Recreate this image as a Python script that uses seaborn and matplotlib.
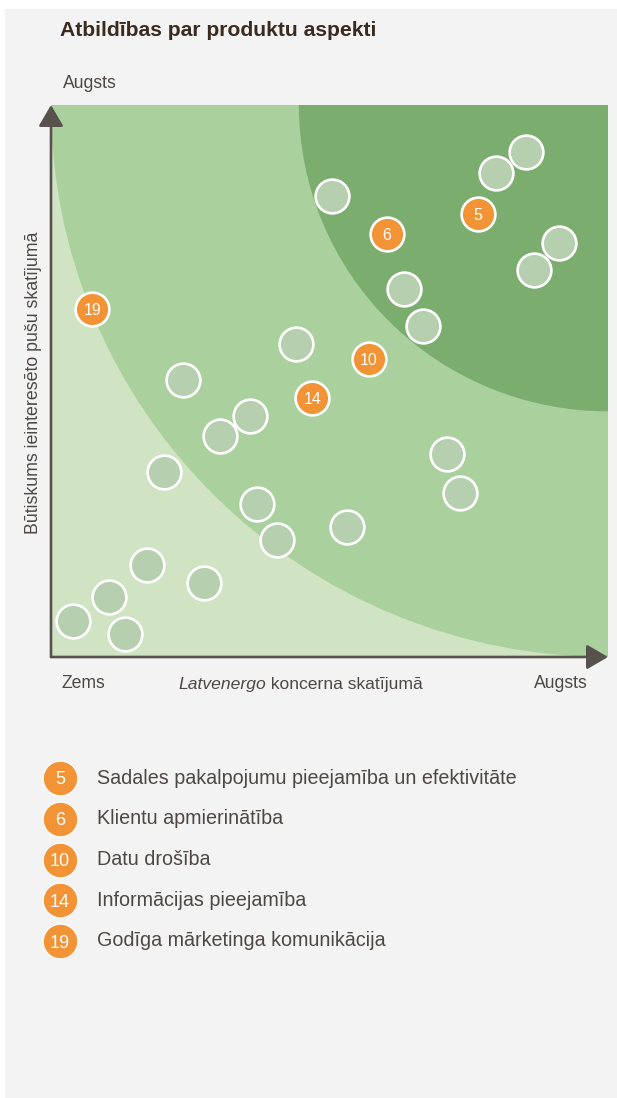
import matplotlib
matplotlib.use("Agg")
import matplotlib.pyplot as plt
from matplotlib.patches import Ellipse, Rectangle
import pandas as pd
import seaborn as sns

# Other material aspects (unnumbered), on a 0-10 scale
other_x = [5.04, 7.99, 8.53, 9.12, 8.67, 6.34, 6.68, 4.40, 2.37, 3.57, 3.03,
           2.03, 3.70, 4.06, 1.72, 2.75, 1.04, 0.39, 1.33, 7.11, 7.34, 5.31]
other_y = [8.35, 8.77, 9.15, 7.50, 7.01, 6.67, 6.00, 5.67, 5.02, 4.37, 4.00,
           3.35, 2.77, 2.12, 1.67, 1.34, 1.09, 0.65, 0.42, 3.68, 2.97, 2.36]

# Product responsibility aspects
aspect_ids = [5, 6, 10, 14, 19]
aspect_names = [
    "Sadales pakalpojumu pieejamība un efektivitāte",
    "Klientu apmierinātība",
    "Datu drošība",
    "Informācijas pieejamība",
    "Godīga mārketinga komunikācija",
]
aspect_x = [7.67, 6.03, 5.71, 4.69, 0.74]
aspect_y = [8.03, 7.66, 5.40, 4.69, 6.30]

# Materiality zones: radii of arcs centred on the top-right corner
zone_radii = [10.0, 5.55]

title = "Atbildības par produktu aspekti"
y_label = "Būtiskums ieinteresēto pušu skatījumā"
x_label_italic = "Latvenergo"
x_label_rest = " koncerna skatījumā"
low_label = "Zems"
high_label = "Augsts"

sns.set_theme(style="white")
plt.rcParams["font.family"] = ["Liberation Sans", "DejaVu Sans"]

W, H = 617, 1098
fig = plt.figure(figsize=(W / 100, H / 100), dpi=100, facecolor="white")


def fx(px):
    return px / W


def fy(py):
    return 1 - py / H


PANEL = "#f3f3f3"
LIGHT = "#d0e4c4"
MID = "#aad19d"
DARK = "#7bad6f"
BUBBLE = "#b6cfae"
ORANGE = "#f29336"
AXIS = "#58514d"
TEXT = "#4f4744"

panel = Rectangle((fx(5), 0), 1, fy(9), transform=fig.transFigure,
                  facecolor=PANEL, edgecolor="none", zorder=-10)
fig.patches.append(panel)

ax = fig.add_axes([fx(51), fy(657), fx(608) - fx(51), fy(105) - fy(657)])
ax.set_xlim(0, 10)
ax.set_ylim(0, 10)
ax.set_facecolor(LIGHT)
for r, col in zip(zone_radii, [MID, DARK]):
    ax.add_patch(Ellipse((10, 10), 2 * r, 2 * r, facecolor=col,
                         edgecolor="none", zorder=1))

others = pd.DataFrame({"x": other_x, "y": other_y})
aspects = pd.DataFrame({"x": aspect_x, "y": aspect_y, "id": aspect_ids})

sns.scatterplot(data=others, x="x", y="y", ax=ax, s=590, color=BUBBLE,
                edgecolor="white", linewidth=1.9, zorder=3, clip_on=False)
sns.scatterplot(data=aspects, x="x", y="y", ax=ax, s=590, color=ORANGE,
                edgecolor="white", linewidth=1.9, zorder=4, clip_on=False)
for _, row in aspects.iterrows():
    ax.text(row["x"], row["y"], str(int(row["id"])), color="white",
            fontsize=11.5, ha="center", va="center_baseline", zorder=5)

ax.set_xlabel("")
ax.set_ylabel("")
ax.set_xticks([])
ax.set_yticks([])
for sp in ax.spines.values():
    sp.set_visible(False)

arrow = dict(arrowstyle="-|>,head_length=0.65,head_width=0.38",
             mutation_scale=20, lw=1.9, color=AXIS, shrinkA=0, shrinkB=0)
ax.annotate("", xy=(0, 1), xytext=(0, 0), xycoords="axes fraction",
            arrowprops=arrow, annotation_clip=False, zorder=6)
ax.annotate("", xy=(1, 0), xytext=(0, 0), xycoords="axes fraction",
            arrowprops=arrow, annotation_clip=False, zorder=6)

fig.text(fx(60), fy(31), title, fontsize=15.2, fontweight="bold",
         color="#3b2a20", va="center")
fig.text(fx(63), fy(83), high_label, fontsize=12.7, color=TEXT, va="center")
fig.text(fx(34), fy(383), y_label, fontsize=12.8, color=TEXT, rotation=90,
         ha="center", va="center")
fig.text(fx(62), fy(684), low_label, fontsize=12.7, color=TEXT, va="center")
fig.text(fx(588), fy(684), high_label, fontsize=12.7, color=TEXT,
         va="center", ha="right")
t_it = fig.text(fx(178), fy(684), x_label_italic, fontsize=12.6, color=TEXT,
                style="italic", va="center")
fig.texts.append(plt.Annotation(x_label_rest, xy=(1, 0), xycoords=t_it,
                                fontsize=12.6, color=TEXT, va="bottom",
                                ha="left", annotation_clip=False))
fig.texts[-1].set_figure(fig)

# Legend of numbered aspects
row_gap = 40.75
top_row = 778
lax = fig.add_axes([0, fy(top_row + 4.5 * row_gap), 1, 5 * row_gap / H])
lax.set_xlim(0, W)
lax.set_ylim(4.5, -0.5)
lax.axis("off")
rows = list(range(len(aspect_ids)))
legend_df = pd.DataFrame({"x": [60] * len(rows), "row": rows})
sns.scatterplot(data=legend_df, x="x", y="row", ax=lax, s=620, color=ORANGE,
                edgecolor="white", linewidth=0.8, clip_on=False)
lax.set_xlabel("")
lax.set_ylabel("")
for i, (num, name) in enumerate(zip(aspect_ids, aspect_names)):
    lax.text(60, i, str(num), color="white", fontsize=13, ha="center",
             va="center_baseline")
    lax.text(97, i, name, color=TEXT, fontsize=14.2, ha="left", va="center")

fig.savefig("out.png", dpi=100, facecolor="white")
